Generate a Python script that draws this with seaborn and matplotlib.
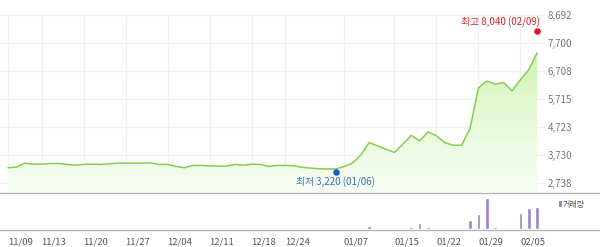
import numpy as np
import pandas as pd
import matplotlib
matplotlib.use("Agg")
import matplotlib.pyplot as plt
import seaborn as sns
from matplotlib.colors import LinearSegmentedColormap
from matplotlib.lines import Line2D
from matplotlib.patches import Rectangle
import matplotlib.transforms as mtrans

# ---------------- data ----------------
dates = ["11/09", "11/10", "11/11", "11/12", "11/13", "11/16", "11/17", "11/18", "11/19", "11/20",
         "11/23", "11/24", "11/25", "11/26", "11/27", "11/30",
         "12/01", "12/02", "12/03", "12/04", "12/07", "12/08", "12/09", "12/10", "12/11",
         "12/14", "12/15", "12/16", "12/17", "12/18", "12/21", "12/22", "12/23", "12/24",
         "12/28", "12/29", "12/30",
         "01/04", "01/05", "01/06", "01/07", "01/08", "01/11", "01/12", "01/13", "01/14", "01/15",
         "01/18", "01/19", "01/20", "01/21", "01/22", "01/25", "01/26", "01/27", "01/28", "01/29",
         "02/01", "02/02", "02/03", "02/04", "02/05", "02/08", "02/09"]

close = [3280, 3300, 3440, 3405, 3405, 3430, 3430, 3395, 3370, 3395,
         3405, 3395, 3415, 3440, 3440, 3440,
         3440, 3450, 3395, 3395, 3325, 3280, 3360, 3360, 3345,
         3335, 3335, 3395, 3370, 3405, 3395, 3325, 3360, 3360,
         3350, 3295, 3265,
         3245, 3235, 3235, 3320, 3440, 3725, 4170, 4050, 3935, 3820,
         4110, 4420, 4230, 4545, 4410, 4165, 4075, 4075, 4665, 6100,
         6340, 6235, 6295, 6000, 6385, 6745, 7345]

volume = [0, 0, 0, 0, 0, 0, 0, 0, 0, 0,
          0, 0, 0, 0, 0, 0,
          0, 0, 0, 0, 0, 0, 0, 0, 0,
          0, 0, 0, 0, 0, 0, 0, 0, 0,
          0, 0, 0,
          0, 0, 0, 0, 0, 130000, 300000, 0, 0, 0,
          0, 180000, 630000, 200000, 100000, 0, 0, 0, 880000, 1550000,
          3100000, 200000, 100000, 100000, 1630000, 2150000, 2230000]

tick_dates = ["11/09", "11/13", "11/20", "11/27", "12/04", "12/11", "12/18", "12/24",
              "01/07", "01/15", "01/22", "01/29", "02/05"]
price_ticks = [2738, 3730, 4723, 5715, 6708, 7700, 8692]
price_tick_labels = ["2,738", "3,730", "4,723", "5,715", "6,708", "7,700", "8,692"]

high_value, high_date = 8040, "02/09"
low_value, low_date = 3220, "01/06"

# ---------------- style ----------------
sns.set_theme(style="white")
plt.rcParams["font.family"] = ["Noto Sans CJK KR", "DejaVu Sans"]

df = pd.DataFrame({"date": dates, "close": close, "volume": volume})
df["pos"] = np.arange(len(df))
pos_of = {d: i for i, d in enumerate(dates)}

W, H = 600, 247
fig = plt.figure(figsize=(W / 100, H / 100), dpi=100)
fig.patch.set_facecolor("white")

px_per_day = 8.4
x_first_px = 8
xlim = ((0 - x_first_px) / px_per_day, (545 - x_first_px) / px_per_day)

# price axes: y from 14px to 192px
ax = fig.add_axes([0, 1 - 192 / H, 545 / W, (192 - 14) / H])
val_per_px = (8692 - 2738) / (183 - 14)
ylim = (8692 - (192 - 14) * val_per_px, 8692 + 0.6 * val_per_px)

# gradient fill under the line
green_line = "#84cf52"
poly = ax.fill_between(df["pos"], df["close"], ylim[0], color="none", lw=0)
cmap = LinearSegmentedColormap.from_list("g", ["#f7fdf3", "#e3f8d2", "#bdef93"])
grad = np.linspace(0, 1, 256).reshape(-1, 1)
img = ax.imshow(grad, extent=[df["pos"].iloc[0], df["pos"].iloc[-1], ylim[0], 8692],
                aspect="auto", cmap=cmap, origin="lower", zorder=1)
img.set_clip_path(poly.get_paths()[0], transform=ax.transData)

sns.lineplot(data=df, x="pos", y="close", color=green_line, lw=1.1, ax=ax, zorder=3)

# grid
grid_c = "#f0f0f0"
tick_pos = [pos_of[d] for d in tick_dates]
for p in tick_pos:
    ax.axvline(p, color=grid_c, lw=1, zorder=0)
for v in price_ticks:
    ax.axhline(v, color=grid_c, lw=1, zorder=0)

ax.set_xlim(*xlim)
ax.set_ylim(*ylim)
ax.set_xticks([])
ax.yaxis.tick_right()
ax.set_yticks(price_ticks)
ax.set_yticklabels(price_tick_labels)
ax.tick_params(axis="y", length=0, pad=2, labelsize=7, labelcolor="#777777")
for s in ax.spines.values():
    s.set_visible(False)
ax.set_xlabel("")
ax.set_ylabel("")
ax.set_facecolor("white")

# high / low markers
hi_df = pd.DataFrame({"pos": [pos_of[high_date]], "v": [high_value]})
lo_df = pd.DataFrame({"pos": [pos_of[low_date]], "v": [low_value]})
sns.scatterplot(data=hi_df, x="pos", y="v", color="#e8141c", s=22, linewidth=0, ax=ax, zorder=5)
ax.collections[-1].set_offset_transform(mtrans.offset_copy(ax.transData, fig=fig, x=0, y=2, units="dots"))
sns.scatterplot(data=lo_df, x="pos", y="v", color="#1a5fc9", s=22, linewidth=0, ax=ax, zorder=5)
ax.collections[-1].set_offset_transform(mtrans.offset_copy(ax.transData, fig=fig, x=0, y=-3, units="dots"))
ax.set_xlabel("")
ax.set_ylabel("")

ax.annotate(f"최고 {high_value:,} ({high_date})", (pos_of[high_date], high_value),
            xytext=(2, 8), textcoords="offset points", ha="right", va="center",
            fontsize=7, color="#d9262b", zorder=6)
ax.annotate(f"최저 {low_value:,} ({low_date})", (pos_of[low_date], low_value),
            xytext=(0, -9.6), textcoords="offset points", ha="center", va="center",
            fontsize=7, color="#3d6fb6", zorder=6)

# volume axes: 193px to 229px
ax2 = fig.add_axes([0, 1 - 229 / H, 545 / W, (229 - 193) / H])
sns.barplot(data=df, x="pos", y="volume", native_scale=True, width=0.42,
            color="#9985c4", saturation=1, ax=ax2)
ax2.set_xlim(*xlim)
ax2.set_ylim(0, 3100000 * 36 / 31)
ax2.set_yticks([])
ax2.set_xticks(tick_pos)
ax2.set_xticklabels(tick_dates, ha="left")
ax2.tick_params(axis="x", length=4, width=0.8, color="#aaaaaa", pad=2,
                labelsize=6.8, labelcolor="#555555", direction="out")
for s in ax2.spines.values():
    s.set_visible(False)
ax2.set_xlabel("")
ax2.set_ylabel("")
ax2.set_facecolor("none")

# separator lines across full width
fig.add_artist(Line2D([0, 1], [1 - 192.5 / H] * 2, color="#b5b5b5", lw=1))
fig.add_artist(Line2D([0, 1], [1 - 229.5 / H] * 2, color="#b5b5b5", lw=1))

# volume legend
fig.add_artist(Rectangle((559 / W, 1 - 206.5 / H), 2.5 / W, 6 / H,
                         transform=fig.transFigure, color="#9985c4", lw=0))
fig.text(563 / W, 1 - 204 / H, "거래량", fontsize=5.8, color="#555555",
         ha="left", va="center")

fig.savefig("out.png", dpi=100, facecolor="white")
